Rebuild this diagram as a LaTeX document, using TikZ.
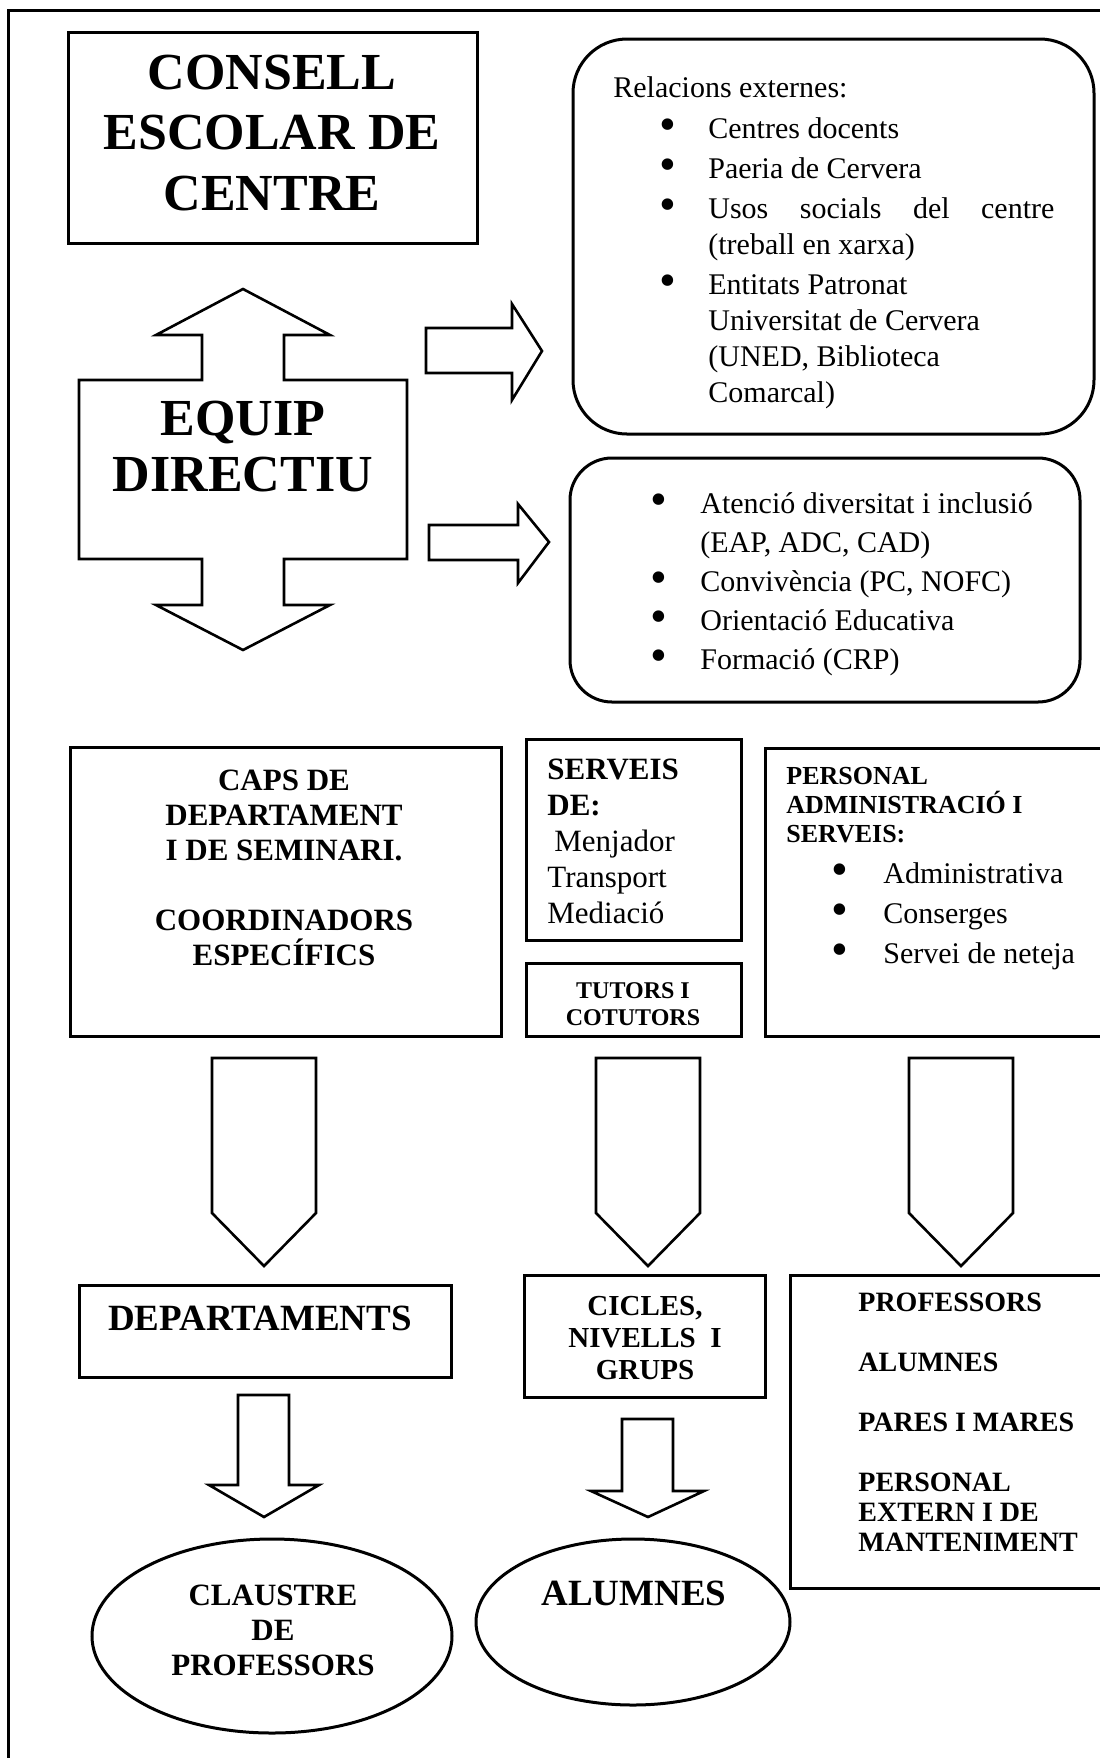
\documentclass[tikz,border=0pt]{standalone}
\usepackage{fontspec}
\setmainfont{Liberation Serif}
\usepackage{tikz}
\usetikzlibrary{shapes.geometric}
\newcommand{\punt}{\raisebox{-0.08em}{\scalebox{1.6}{\textbullet}}}

\begin{document}
\begin{tikzpicture}[x=0.5pt,y=-0.5pt,
	caixa/.style={draw,line width=1.5pt,inner sep=0pt},
	fletxa/.style={draw,line width=1.3pt},
	negreta/.style 2 args={inner sep=0pt,anchor=base,font=\bfseries\fontsize{#1}{#2}\selectfont},
	rodo/.style 2 args={inner sep=0pt,anchor=base west,font=\fontsize{#1}{#2}\selectfont}]
	\useasboundingbox (0,0) rectangle (1099,1758);
	%\draw[help lines] (0,0) grid[step=50] (1099,1758);
	\draw[line width=1.5pt] (8,10) rectangle (1115,1775);
	\node[caixa,minimum width=204.5pt,minimum height=105.5pt] (consell) at (272.5,137.5) {};
	\node[negreta={26pt}{30.25pt},align=center] (consellt) at (272,210) {CONSELL\\ESCOLAR DE\\CENTRE};
	\draw[fletxa] (243,289) -- (330,335) -- (284,335) -- (284,380) -- (407,380) -- (407,559) -- (284,559) -- (284,605) -- (330,605) -- (243,650) -- (156,605) -- (202,605) -- (202,559) -- (79,559) -- (79,380) -- (202,380) -- (202,335) -- (156,335) -- cycle;
	\node[negreta={26pt}{28pt},align=center] (equip) at (243,491) {EQUIP\\DIRECTIU};
	\draw[fletxa] (426,328) -- (512,328) -- (512,304) -- (542,351) -- (512,400) -- (512,373) -- (426,373) -- cycle;
	\draw[fletxa] (429,525) -- (518,525) -- (518,504) -- (549,542) -- (518,583) -- (518,560) -- (429,560) -- cycle;
	\node[caixa,rounded corners=27pt,minimum width=260.5pt,minimum height=197.5pt] (externes) at (833.5,236.5) {};
	\node[rodo={15pt}{18pt}] (relacions) at (613,97) {Relacions externes:};
	\node[rodo={15pt}{18pt}] (llista1) at (659,138) {\begin{tabular}[t]{@{}p{24.5pt}@{}p{173pt}@{}}
		\punt & Centres docents\\[2pt]
		\punt & Paeria de Cervera\\[2pt]
		\punt & Usos\hfill socials\hfill del\hfill centre\newline(treball en xarxa)\\[2pt]
		\punt & Entitats Patronat\newline Universitat de Cervera\newline (UNED, Biblioteca\newline Comarcal)
	\end{tabular}};
	\node[caixa,rounded corners=21pt,minimum width=255pt,minimum height=122pt] (suport) at (825,580) {};
	\node[rodo={15pt}{19.5pt}] (llista2) at (650,513) {\begin{tabular}[t]{@{}p{25pt}@{}p{180pt}@{}}
		\punt & Atenció diversitat i inclusió\newline(EAP, ADC, CAD)\\
		\punt & Convivència (PC, NOFC)\\
		\punt & Orientació Educativa\\
		\punt & Formació (CRP)
	\end{tabular}};
	\node[caixa,minimum width=215.5pt,minimum height=144.5pt] (caps) at (285.5,891.5) {};
	\node[negreta={15.5pt}{17.5pt},align=center] (capst) at (284,965) {CAPS DE\\DEPARTAMENT\\I DE SEMINARI.\\[17.5pt]COORDINADORS\\ESPECÍFICS};
	\node[caixa,minimum width=107.5pt,minimum height=100.5pt] (serveis) at (633.5,839.5) {};
	\node[rodo={15.5pt}{18pt},align=left] (serveist) at (547,923) {\textbf{SERVEIS}\\\textbf{DE:}\\\hspace{3.5pt}Menjador\\Transport\\Mediació};
	\node[caixa,minimum width=107.5pt,minimum height=36.5pt] (tutors) at (633.5,999.5) {};
	\node[negreta={12pt}{13.5pt},align=center] (tutorst) at (633,1025) {TUTORS I\\COTUTORS};
	\node[caixa,minimum width=175pt,minimum height=144pt] (personal) at (940,892) {};
	\node[negreta={13pt}{14.5pt},anchor=base west,align=left] (personalt) at (786,842) {PERSONAL\\ADMINISTRACIÓ I\\SERVEIS:};
	\node[rodo={15pt}{20pt}] (llista3) at (831,883) {\begin{tabular}[t]{@{}p{26pt}@{}l@{}}
		\punt & Administrativa\\
		\punt & Conserges\\
		\punt & Servei de neteja
	\end{tabular}};
	\foreach \x in {264,648,961}
		\draw[fletxa] (\x-52,1058) -- (\x+52,1058) -- (\x+52,1213) -- (\x,1266) -- (\x-52,1213) -- cycle;
	\node[caixa,minimum width=186pt,minimum height=46pt] (departaments) at (265,1331) {};
	\node[negreta={18.5pt}{22pt}] (departamentst) at (260,1330) {DEPARTAMENTS};
	\node[caixa,minimum width=120.5pt,minimum height=61pt] (cicles) at (644.5,1336) {};
	\node[negreta={14.5pt}{16pt},align=center] (ciclest) at (645,1379) {CICLES,\\NIVELLS\ \ I\\GRUPS};
	\node[caixa,minimum width=162.5pt,minimum height=156.5pt] (collectius) at (952.5,1431.5) {};
	\node[negreta={14pt}{15pt},anchor=base west,align=left] (collectiust) at (858,1551) {PROFESSORS\\[15pt]ALUMNES\\[15pt]PARES I MARES\\[15pt]PERSONAL\\EXTERN I DE\\MANTENIMENT};
	\draw[fletxa] (238,1395) -- (289,1395) -- (289,1485) -- (319,1485) -- (264,1517) -- (209,1485) -- (238,1485) -- cycle;
	\draw[fletxa] (622,1419) -- (673,1419) -- (673,1491) -- (704,1491) -- (648,1517) -- (591,1491) -- (622,1491) -- cycle;
	\node[caixa,ellipse,minimum width=180pt,minimum height=97pt] (claustre) at (272,1636) {};
	\node[negreta={15.5pt}{17.5pt},align=center] (claustret) at (273,1675) {CLAUSTRE\\DE\\PROFESSORS};
	\node[caixa,ellipse,minimum width=157pt,minimum height=83pt] (alumnes) at (633,1622) {};
	\node[negreta={18.5pt}{22pt}] (alumnest) at (634,1605) {ALUMNES};
\end{tikzpicture}
\end{document}
